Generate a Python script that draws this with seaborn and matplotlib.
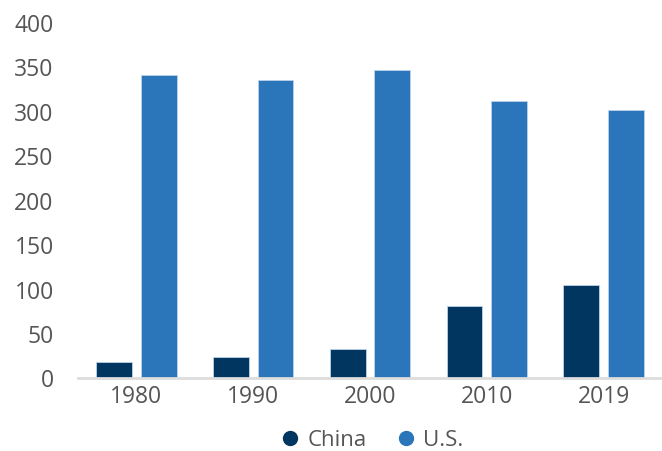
import matplotlib
matplotlib.use("Agg")
import matplotlib.pyplot as plt
from matplotlib.lines import Line2D
import seaborn as sns
import pandas as pd

years = ["1980", "1990", "2000", "2010", "2019"]
china = [18, 23, 32.5, 81, 104]
us = [340.5, 334.5, 346.5, 311.5, 301]
series_names = ["China", "U.S."]
colors = {"China": "#00365F", "U.S.": "#2B76BB"}
yticks = [0, 50, 100, 150, 200, 250, 300, 350, 400]

df = pd.DataFrame({
    "year": years * 2,
    "value": china + us,
    "series": ["China"] * len(years) + ["U.S."] * len(years),
})

sns.set_theme(style="white")
plt.rcParams["font.family"] = ["Open Sans", "DejaVu Sans"]

fig = plt.figure(figsize=(6.62, 4.52), dpi=100)
ax = fig.add_axes([78 / 662, 1 - 378.5 / 452, (662 - 78) / 662, (378.5 - 23) / 452])

sns.barplot(data=df, x="year", y="value", hue="series", palette=colors,
            hue_order=series_names, width=0.766, gap=0.2, ax=ax, legend=False,
            saturation=1, edgecolor="#bcd3ea", linewidth=0.6)

ax.set_xlim(-0.5, 4.5)
ax.set_ylim(0, 400)
ax.set_yticks(yticks)
ax.set_yticklabels([str(t) for t in yticks])
ax.set_xlabel("")
ax.set_ylabel("")
for s in ["top", "right", "left"]:
    ax.spines[s].set_visible(False)
ax.spines["bottom"].set_color("#dddddd")
ax.spines["bottom"].set_linewidth(2)
ax.tick_params(axis="y", length=0, pad=17.5, labelsize=16.5, labelcolor="#555555")
ax.tick_params(axis="x", length=0, pad=5, labelsize=16.5, labelcolor="#555555")
ax.grid(False)

handles = [Line2D([0], [0], marker="o", linestyle="", markersize=10,
                  markerfacecolor=colors[n], markeredgecolor=colors[n]) for n in series_names]
leg = fig.legend(handles, series_names, loc="center", bbox_to_anchor=(371 / 662, 1 - 441 / 452),
                 ncol=2, frameon=False, fontsize=16, handletextpad=0.3, columnspacing=1.25,
                 handlelength=1.0)
for t in leg.get_texts():
    t.set_color("#555555")

fig.savefig("out.png", dpi=100)
